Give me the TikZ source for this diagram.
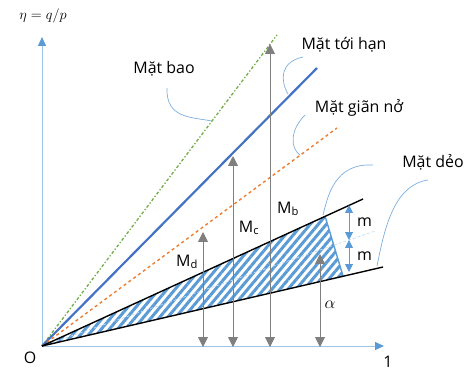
\documentclass[tikz,border=0pt]{standalone}
\usepackage{fontspec}
\setmainfont{Open Sans}
\usepackage{tikz}
\usetikzlibrary{arrows.meta,positioning,patterns.meta,calc}
\definecolor{axisblue}{HTML}{9DC3E6}
\definecolor{tipblue}{HTML}{5B9BD5}
\definecolor{critblue}{HTML}{4472C4}
\definecolor{dilorange}{HTML}{ED7D31}
\definecolor{envgreen}{HTML}{70AD47}
\definecolor{armgray}{HTML}{7F7F7F}
\tikzset{
  axisline/.style={
    draw=axisblue,
    line width=0.9pt,
    -{Triangle[length=9pt,width=8pt,color=tipblue]}
  },
  surflabel/.style={
    font=\fontsize{16}{18}\selectfont,
    inner sep=1pt
  },
  envline/.style={draw=envgreen, line width=1.3pt, dash dot},
  critline/.style={draw=critblue, line width=2.2pt},
  dilline/.style={draw=dilorange, line width=1.4pt, dashed},
  plasline/.style={draw=black, line width=1.4pt},
  midline/.style={draw=axisblue!60, line width=0.7pt, densely dashed},
  callout/.style={draw=tipblue!80, line width=0.7pt},
  armarrow/.style={
    draw=armgray,
    line width=0.9pt,
    {Triangle[length=10pt,width=10pt,color=armgray]}-{Triangle[length=10pt,width=10pt,color=armgray]}
  },
  marrow/.style={
    draw=tipblue,
    line width=1pt,
    {Triangle[length=8pt,width=8pt,color=tipblue]}-{Triangle[length=8pt,width=8pt,color=tipblue]}
  }
}

\begin{document}
\begin{tikzpicture}[x=1bp,y=-1bp]
  \useasboundingbox (0,0) rectangle (475,373);
  % axes
  \coordinate (O) at (42,346);
  \coordinate (ytip) at (42,37);
  \coordinate (xtip) at (384,346);
  \draw[axisline] (O) -- (ytip);
  \draw[axisline] (O) -- (xtip);
  \node[surflabel] (orig) at (30,358) {O};
  \node[surflabel] (one) at (388,362) {1};
  \node[font=\fontsize{15}{17}\selectfont] (eta) at (43,16) {$\eta = q/p$};

  % hatched plastic zone
  \coordinate (uc) at (325,216);
  \coordinate (lc) at (343,276);
  \fill[pattern={Lines[angle=50,distance=6.2pt,line width=3pt]}, pattern color=tipblue]
    (O) -- (uc) -- (lc) -- cycle;
  \draw[tipblue, line width=1.4pt] (uc) -- (lc);
  \coordinate (mend) at (375,231);
  \draw[midline] (O) -- (mend);

  % surfaces
  \coordinate (gend) at (277,35);
  \coordinate (bend) at (317,68);
  \coordinate (oend) at (337,128);
  \coordinate (uend) at (363,199);
  \coordinate (lend) at (383,267);
  \draw[envline] (O) -- (gend);
  \draw[critline] (O) -- (bend);
  \draw[dilline] (O) -- (oend);
  \draw[plasline] (O) -- (uend);
  \draw[plasline] (O) -- (lend);

  % distances to the surfaces
  \coordinate (bt) at (270,44);  \coordinate (bb) at (270,347);
  \coordinate (ct) at (233,156); \coordinate (cb) at (233,347);
  \coordinate (dt) at (203,232); \coordinate (db) at (203,347);
  \coordinate (at) at (320,254); \coordinate (ab) at (320,347);
  \draw[armarrow] (bt) -- (bb);
  \draw[armarrow] (ct) -- (cb);
  \draw[armarrow] (dt) -- (db);
  \draw[armarrow] (at) -- (ab);
  \node[surflabel] (mb) at (288,209) {M\textsubscript{b}};
  \node[surflabel] (mc) at (249,228) {M\textsubscript{c}};
  \node[surflabel] (md) at (187,262) {M\textsubscript{d}};
  \node[surflabel] (alpha) at (330,305) {$\alpha$};

  % half width m
  \coordinate (mt) at (349,205);
  \coordinate (mm) at (349,240);
  \coordinate (mlo) at (349,272);
  \draw[marrow] (mt) -- (mm);
  \draw[marrow] (mm) -- (mlo);
  \node[surflabel, right=7pt of $(mt)!0.5!(mm)$] (m1) {m};
  \node[surflabel, right=7pt of $(mm)!0.5!(mlo)$] (m2) {m};

  % surface names
  \node[surflabel] (lbao) at (164,69) {Mặt bao};
  \node[surflabel] (lgh) at (344,45) {Mặt tới hạn};
  \node[surflabel] (lgn) at (359,108) {Mặt giãn nở};
  \node[surflabel] (ldeo) at (433,162) {Mặt dẻo};
  \coordinate (pbao) at (212,121);
  \coordinate (pgh) at (288,94);
  \coordinate (pgn) at (300,155);
  \coordinate (pdeo1) at (323,215);
  \coordinate (pdeo2) at (377,266);
  \draw[callout] (167,88) .. controls (166,118) and (190,117) .. (pbao);
  \draw[callout] (303,57) .. controls (280,62) and (280,80) .. (pgh);
  \draw[callout] (305,115) .. controls (290,130) and (290,148) .. (pgn);
  \draw[callout] (373,165) .. controls (335,163) and (328,195) .. (pdeo1);
  \draw[callout] (428,180) .. controls (395,185) and (385,225) .. (pdeo2);
\end{tikzpicture}
\end{document}
